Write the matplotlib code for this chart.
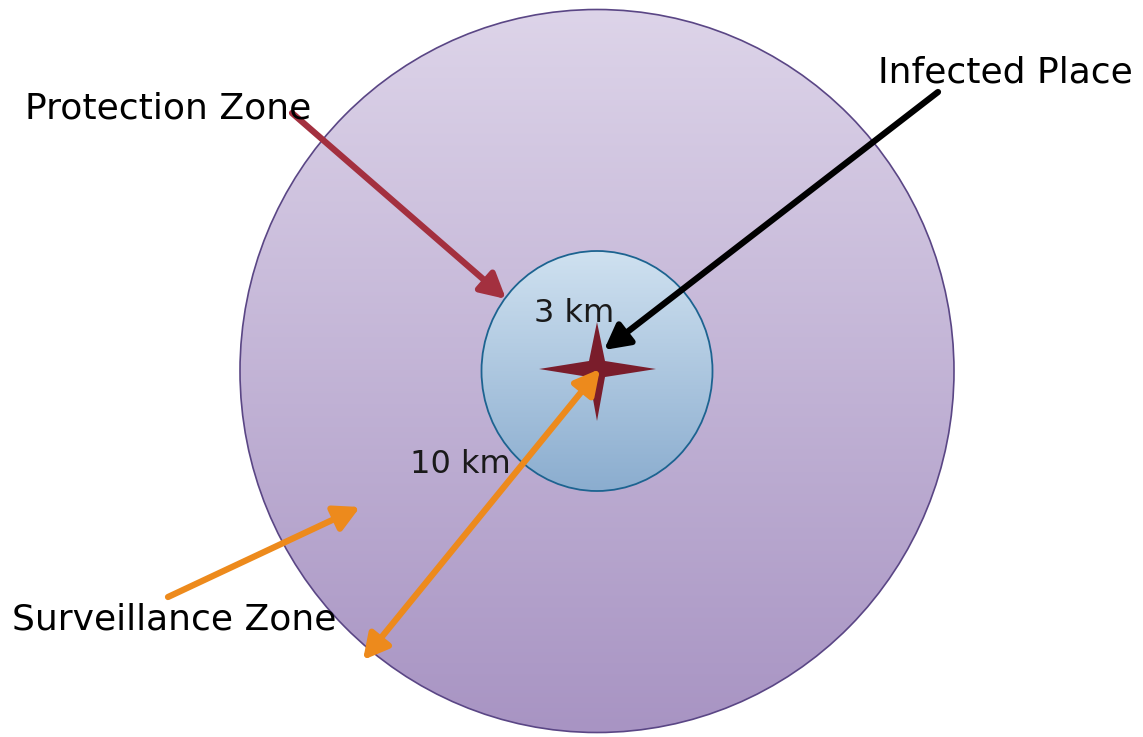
import numpy as np
import matplotlib
matplotlib.use("Agg")
import matplotlib.pyplot as plt
from matplotlib.patches import Ellipse, FancyArrowPatch, Polygon
from matplotlib.colors import LinearSegmentedColormap

# ---- diagram content ----
zone_labels = ["Protection Zone", "Surveillance Zone", "Infected Place"]
radius_labels = ["3 km", "10 km"]
radii_km = [3, 10]

# geometry in pixel coordinates (x right, y down)
center = (597, 371)
outer_size = (714, 723)
inner_size = (231, 240)
label_pos = {"Protection Zone": (25, 108), "Surveillance Zone": (12, 619),
             "Infected Place": (878, 72)}
radius_label_pos = {"3 km": (574, 313), "10 km": (460, 464)}
arrows = {
    "Protection Zone": ((292, 113), (506, 299), "#a3303f"),
    "Infected Place": ((938, 92), (604, 350), "#000000"),
    "Surveillance Zone": ((168, 597), (360, 507), "#ed8a1c"),
}
double_arrow = ((363, 660), (600, 369), "#ed8a1c")

W, H = 1143, 737
fig = plt.figure(figsize=(W / 100, H / 100), dpi=100)
ax = fig.add_axes([0, 0, 1, 1])
ax.set_xlim(0, W)
ax.set_ylim(H, 0)
ax.axis("off")


def gradient_ellipse(c, size, top, bottom, edge, lw, z):
    e = Ellipse(c, size[0], size[1], facecolor="none", edgecolor=edge, lw=lw, zorder=z + 1)
    ax.add_patch(e)
    cmap = LinearSegmentedColormap.from_list("g", [top, bottom])
    grad = np.linspace(0, 1, 256).reshape(-1, 1)
    x0, x1 = c[0] - size[0] / 2, c[0] + size[0] / 2
    y0, y1 = c[1] - size[1] / 2, c[1] + size[1] / 2
    im = ax.imshow(grad, cmap=cmap, extent=(x0, x1, y1, y0), aspect="auto",
                   origin="upper", zorder=z, interpolation="bilinear")
    clip = Ellipse(c, size[0], size[1], transform=ax.transData)
    im.set_clip_path(clip)


gradient_ellipse(center, outer_size, "#ddd4e9", "#a894c3", "#5a4685", 1.2, 1)
gradient_ellipse(center, inner_size, "#cfe1f0", "#8badcf", "#1c6390", 1.3, 3)

# star
cx, cy = 597, 369
d = 8
star_pts = [(cx, 322), (cx + d, cy - d), (656, cy), (cx + d, cy + d), (cx, 421),
            (cx - d, cy + d), (539, cy), (cx - d, cy - d)]
ax.add_patch(Polygon(star_pts, closed=True, facecolor="#7a1d2b", edgecolor="none", zorder=5))

# texts
for lab in zone_labels:
    x, y = label_pos[lab]
    ax.text(x, y, lab, fontsize=26, family="DejaVu Sans", va="center", ha="left",
            color="black", zorder=10)
for lab in radius_labels:
    x, y = radius_label_pos[lab]
    ax.text(x, y, lab, fontsize=23, family="DejaVu Sans", va="center", ha="center",
            color="#1a1a1a", zorder=10)

# arrows
for lab, (p0, p1, col) in arrows.items():
    a = FancyArrowPatch(p0, p1, arrowstyle="-|>,head_length=15,head_width=8",
                        mutation_scale=1, color=col, lw=4.5, zorder=8,
                        shrinkA=0, shrinkB=0)
    ax.add_patch(a)

p0, p1, col = double_arrow
ax.add_patch(FancyArrowPatch(p0, p1, arrowstyle="<|-|>,head_length=15,head_width=8",
                             mutation_scale=1, color=col, lw=4.5, zorder=8,
                             shrinkA=0, shrinkB=0))

fig.savefig("out.png", dpi=100)
